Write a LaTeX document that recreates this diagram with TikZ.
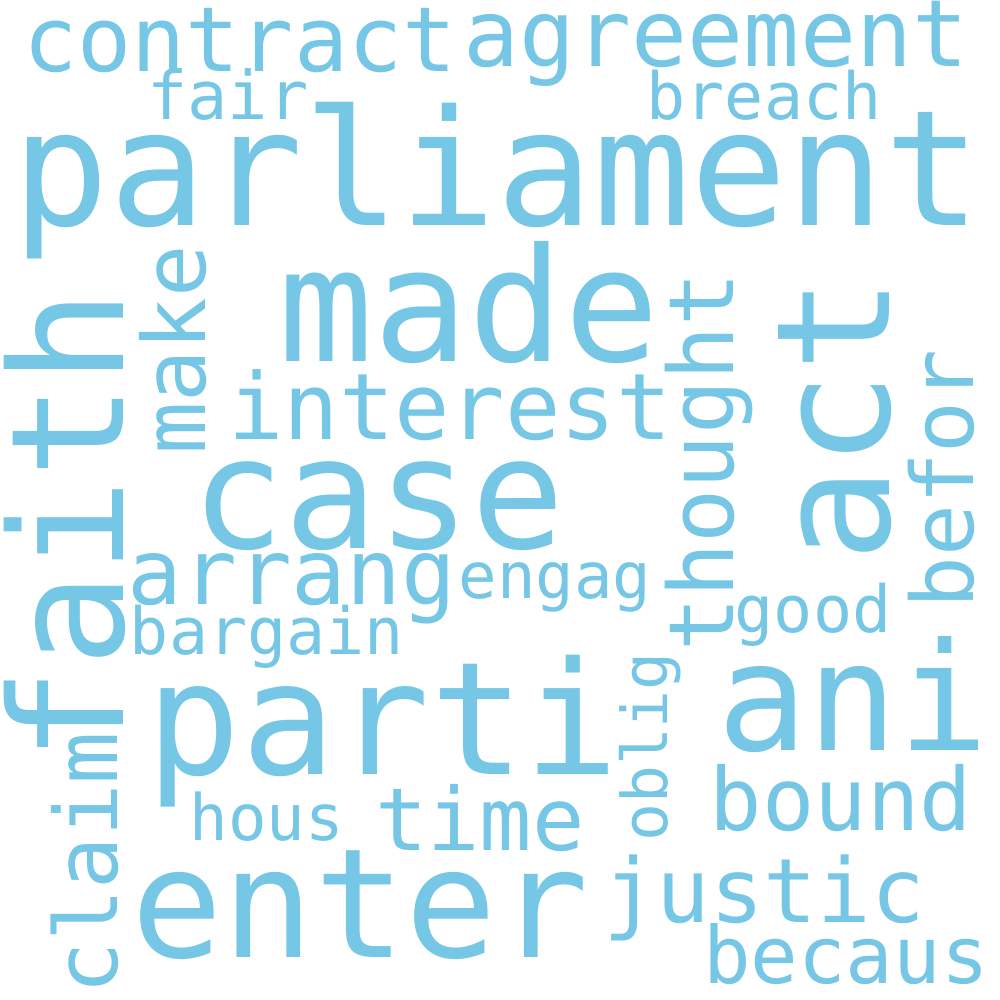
\documentclass[tikz,border=0pt]{standalone}
\usepackage{fontspec}
\setmonofont{DejaVu Sans Mono}
\usepackage{tikz}

\definecolor{cloudblue}{RGB}{118,198,230}
\newcommand\wordsize[1]{\pgfmathsetmacro\wsz{#1*0.284528}\fontsize{\wsz pt}{\wsz pt}\ttfamily\selectfont}
\tikzset{word/.style={text=cloudblue,inner sep=0pt,anchor=base,font=\wordsize{#1}}}

\begin{document}
\begin{tikzpicture}[x=0.01cm,y=-0.01cm]
\useasboundingbox (0,0) rectangle (1000,1000);
% words set along the line
\foreach \w/\x/\y/\s in {contract/240/71/90,agreement/716/66/93,fair/228/119/67,
  breach/764/119/65,parliament/497/225/161,made/469/361/158,interest/450/439/92,
  case/378/548/155,arrang/292/604/91,engag/555/598/64,good/813/632/65,
  bargain/267/654/65,parti/383/774/157,ani/853/750/150,hous/267/840/64,
  time/480/850/87,bound/841/830/87,enter/360/957/152,justic/764/922/89,
  becaus/846/983/79} {
\node[word=\s] (\w) at (\x,\y) {\w};
}
% words turned upright
\foreach \w/\x/\y/\s in {faith/123/526/157,make/205/350/87,act/889/420/158,
  thought/733/462/90,befor/973/479/86,oblig/667/747/63,claim/117/863/87} {
\node[word=\s,rotate=90] (\w) at (\x,\y) {\w};
}
\end{tikzpicture}
\end{document}
